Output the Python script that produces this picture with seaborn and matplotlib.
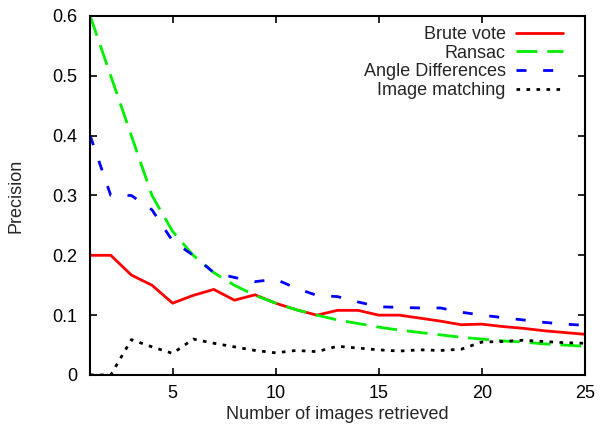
import pandas as pd
import matplotlib
matplotlib.use("Agg")
import matplotlib.pyplot as plt
import seaborn as sns

# Número de imágenes recuperadas (eje x)
n_imagenes = list(range(1, 26))

brute_vote = [0.200, 0.200, 0.167, 0.150, 0.120, 0.133, 0.143, 0.125, 0.134, 0.120,
              0.109, 0.100, 0.108, 0.108, 0.100, 0.100, 0.095, 0.090, 0.084, 0.085,
              0.081, 0.078, 0.074, 0.071, 0.068]
ransac = [0.600, 0.500, 0.400, 0.300, 0.240, 0.200, 0.171, 0.150, 0.133, 0.120,
          0.109, 0.100, 0.092, 0.086, 0.080, 0.075, 0.071, 0.067, 0.063, 0.060,
          0.057, 0.055, 0.052, 0.050, 0.048]
angle_diff = [0.400, 0.300, 0.300, 0.276, 0.224, 0.200, 0.171, 0.163, 0.156, 0.160,
              0.145, 0.133, 0.131, 0.122, 0.114, 0.113, 0.112, 0.112, 0.105, 0.100,
              0.096, 0.092, 0.088, 0.085, 0.083]
image_matching = [0.000, 0.000, 0.059, 0.047, 0.036, 0.060, 0.053, 0.047, 0.041, 0.037,
                  0.041, 0.039, 0.048, 0.045, 0.042, 0.040, 0.042, 0.041, 0.043, 0.055,
                  0.056, 0.058, 0.056, 0.054, 0.053]

metodos = ["Brute vote", "Ransac", "Angle Differences", "Image matching"]
series = [brute_vote, ransac, angle_diff, image_matching]

df = pd.concat(
    [pd.DataFrame({"n": n_imagenes, "precision": vals, "metodo": nombre})
     for nombre, vals in zip(metodos, series)],
    ignore_index=True,
)

colores = {"Brute vote": "#ff0000", "Ransac": "#00ee00",
           "Angle Differences": "#0000ff", "Image matching": "#000000"}
trazos = {"Brute vote": "", "Ransac": (7.5, 3.6),
          "Angle Differences": (3.6, 6.0), "Image matching": (1.3, 2.3)}

sns.set_theme(style="ticks")
plt.rcParams["font.family"] = ["Liberation Sans", "DejaVu Sans"]
fs = 13

fig, ax = plt.subplots(figsize=(6.01, 4.32), dpi=100)
fig.subplots_adjust(left=0.15, right=0.973, top=0.963, bottom=0.132)

sns.lineplot(data=df, x="n", y="precision", hue="metodo", style="metodo",
             palette=colores, dashes=trazos, linewidth=2.0, ax=ax)

ax.set_xlim(1, 25)
ax.set_ylim(0, 0.6)
ax.set_xticks([5, 10, 15, 20, 25])
ax.set_yticks([0, 0.1, 0.2, 0.3, 0.4, 0.5, 0.6])
ax.set_yticklabels(["0", "0.1", "0.2", "0.3", "0.4", "0.5", "0.6"])
ax.tick_params(direction="in", length=5, width=1.2, top=True, right=True,
               labelsize=fs, colors="black")
ax.tick_params(axis="y", pad=9)
ax.tick_params(axis="x", pad=7)
for lado in ax.spines.values():
    lado.set_linewidth(1.5)
    lado.set_color("black")

ax.set_xlabel("Number of images retrieved", fontsize=fs, labelpad=3)
ax.set_ylabel("Precision", fontsize=fs, labelpad=20)

handles, labels = ax.get_legend_handles_labels()
ax.legend(handles, labels, loc="upper right", frameon=False, markerfirst=False,
          alignment="right", handlelength=2.6, handletextpad=0.55,
          labelspacing=0.09, fontsize=fs, borderaxespad=0.0, borderpad=0.0,
          bbox_to_anchor=(0.955, 0.972))

fig.savefig("out.png", dpi=100)
